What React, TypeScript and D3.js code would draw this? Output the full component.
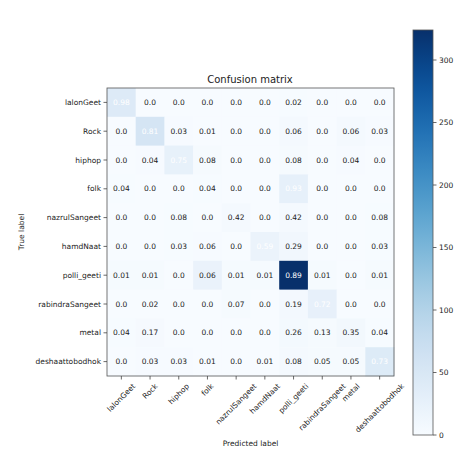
import React from 'react';
import * as d3 from 'd3';

const classes = [
  'lalonGeet',
  'Rock',
  'hiphop',
  'folk',
  'nazrulSangeet',
  'hamdNaat',
  'polli_geeti',
  'rabindraSangeet',
  'metal',
  'deshaattobodhok',
];

// normalized rows, as printed in the cells
const rowLalonGeet = [0.98, 0.0, 0.0, 0.0, 0.0, 0.0, 0.02, 0.0, 0.0, 0.0];
const rowRock = [0.0, 0.81, 0.03, 0.01, 0.0, 0.0, 0.06, 0.0, 0.06, 0.03];
const rowHiphop = [0.0, 0.04, 0.75, 0.08, 0.0, 0.0, 0.08, 0.0, 0.04, 0.0];
const rowFolk = [0.04, 0.0, 0.0, 0.04, 0.0, 0.0, 0.93, 0.0, 0.0, 0.0];
const rowNazrul = [0.0, 0.0, 0.08, 0.0, 0.42, 0.0, 0.42, 0.0, 0.0, 0.08];
const rowHamd = [0.0, 0.0, 0.03, 0.06, 0.0, 0.59, 0.29, 0.0, 0.0, 0.03];
const rowPolli = [0.01, 0.01, 0.0, 0.06, 0.01, 0.01, 0.89, 0.01, 0.0, 0.01];
const rowRabindra = [0.0, 0.02, 0.0, 0.0, 0.07, 0.0, 0.19, 0.72, 0.0, 0.0];
const rowMetal = [0.04, 0.17, 0.0, 0.0, 0.0, 0.0, 0.26, 0.13, 0.35, 0.04];
const rowDesh = [0.0, 0.03, 0.03, 0.01, 0.0, 0.01, 0.08, 0.05, 0.05, 0.73];

// samples per true class (estimated from the cell shading)
const support = [43, 68, 35, 29, 12, 34, 364, 37, 23, 57];

const colorbarTicks = [0, 50, 100, 150, 200, 250, 300];
const countMax = 324;

const rows = [
  rowLalonGeet,
  rowRock,
  rowHiphop,
  rowFolk,
  rowNazrul,
  rowHamd,
  rowPolli,
  rowRabindra,
  rowMetal,
  rowDesh,
];

const fmt = (v: number) => (v === 0 ? '0.0' : String(v));

const labelSize = 7.5;
const font = 'DejaVu Sans, sans-serif';

let ctx: CanvasRenderingContext2D | null = null;
function textWidth(s: string) {
  if (!ctx) ctx = document.createElement('canvas').getContext('2d');
  if (!ctx) return s.length * labelSize * 0.6;
  ctx.font = `${labelSize}px "DejaVu Sans"`;
  return ctx.measureText(s).width;
}

export default function App() {
  const width = 474;
  const height = 464;
  const m = { left: 107, top: 88, right: 394, bottom: 376 };

  const x = d3.scaleBand().domain(classes).range([m.left, m.right]);
  const y = d3.scaleBand().domain(classes).range([m.top, m.bottom]);
  const color = d3.scaleSequential(d3.interpolateBlues).domain([0, countMax]);

  const cb = { x: 413, w: 20, top: 30, bottom: 435 };
  const cy = d3.scaleLinear().domain([0, countMax]).range([cb.bottom, cb.top]);
  const stops = d3.range(0, 1.0001, 0.05);

  const thresh = 0.49;
  const xLabelTop = m.bottom + 6;

  return (
    <svg
      width={width}
      height={height}
      style={{ position: 'absolute', left: 0, top: 0, background: '#fff' }}
      fontFamily={font}
    >
      <defs>
        <linearGradient id='cbar' x1='0' y1='1' x2='0' y2='0'>
          {stops.map((t) => (
            <stop key={t} offset={t} stopColor={d3.interpolateBlues(t)} />
          ))}
        </linearGradient>
      </defs>

      <text x={250} y={83} textAnchor='middle' fontSize={10} fill='#222'>
        Confusion matrix
      </text>

      <g className='cells'>
        {rows.map((row, i) =>
          row.map((v, j) => {
            const count = v * support[i];
            return (
              <g key={`${i}-${j}`}>
                <rect
                  x={x(classes[j])}
                  y={y(classes[i])}
                  width={x.bandwidth() + 0.5}
                  height={y.bandwidth() + 0.5}
                  fill={color(count)}
                />
                <text
                  x={x(classes[j])! + x.bandwidth() / 2}
                  y={y(classes[i])! + y.bandwidth() / 2}
                  textAnchor='middle'
                  dominantBaseline='central'
                  fontSize={7.5}
                  fill={v > thresh ? '#fff' : '#222'}
                >
                  {fmt(v)}
                </text>
              </g>
            );
          })
        )}
      </g>

      <rect
        x={m.left}
        y={m.top}
        width={m.right - m.left}
        height={m.bottom - m.top}
        fill='none'
        stroke='#555'
        strokeWidth={0.8}
      />

      <g className='y-axis' fontSize={labelSize} fill='#222'>
        {classes.map((c) => {
          const yy = y(c)! + y.bandwidth() / 2;
          return (
            <g key={c}>
              <line x1={m.left - 3.5} x2={m.left} y1={yy} y2={yy} stroke='#444' strokeWidth={0.8} />
              <text x={m.left - 6} y={yy} textAnchor='end' dominantBaseline='central'>
                {c}
              </text>
            </g>
          );
        })}
      </g>

      <g className='x-axis' fontSize={labelSize} fill='#222'>
        {classes.map((c) => {
          const xx = x(c)! + x.bandwidth() / 2;
          // rotated label centred on the tick, its bounding box hanging below the axis
          const half = (textWidth(c) + labelSize * 1.1) / (2 * Math.SQRT2);
          return (
            <g key={c}>
              <line x1={xx} x2={xx} y1={m.bottom} y2={m.bottom + 3.5} stroke='#444' strokeWidth={0.8} />
              <text
                transform={`translate(${xx},${xLabelTop + half}) rotate(-45)`}
                textAnchor='middle'
                dominantBaseline='central'
              >
                {c}
              </text>
            </g>
          );
        })}
      </g>

      <text
        transform={`translate(24,${(m.top + m.bottom) / 2}) rotate(-90)`}
        textAnchor='middle'
        fontSize={labelSize}
        fill='#222'
      >
        True label
      </text>
      <text x={(m.left + m.right) / 2} y={446} textAnchor='middle' fontSize={labelSize} fill='#222'>
        Predicted label
      </text>

      <g className='colorbar'>
        <rect
          x={cb.x}
          y={cb.top}
          width={cb.w}
          height={cb.bottom - cb.top}
          fill='url(#cbar)'
          stroke='#555'
          strokeWidth={0.8}
        />
        {colorbarTicks.map((t) => (
          <g key={t}>
            <line
              x1={cb.x + cb.w}
              x2={cb.x + cb.w + 3.5}
              y1={cy(t)}
              y2={cy(t)}
              stroke='#444'
              strokeWidth={0.8}
            />
            <text
              x={cb.x + cb.w + 6}
              y={cy(t)}
              dominantBaseline='central'
              fontSize={labelSize}
              fill='#222'
            >
              {t}
            </text>
          </g>
        ))}
      </g>
    </svg>
  );
}
